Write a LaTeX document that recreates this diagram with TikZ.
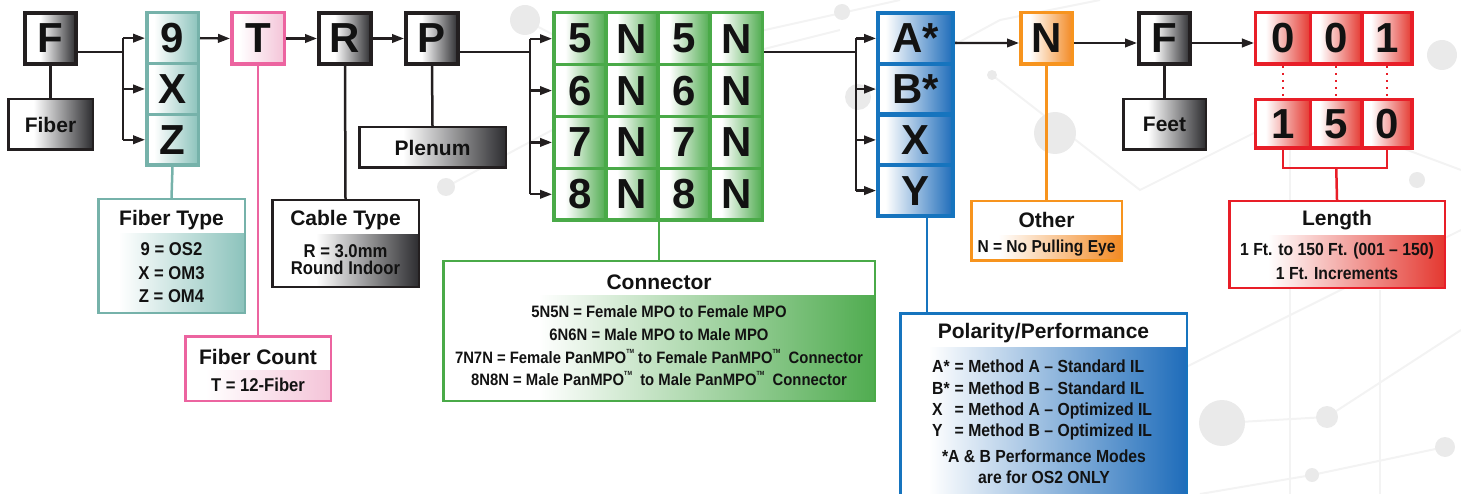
\documentclass[tikz,border=0pt]{standalone}
\usepackage{fontspec}
\setmainfont{Liberation Sans}
\newfontfamily\condf{Liberation Sans}[FakeStretch=0.9]
\usetikzlibrary{arrows.meta}

\definecolor{txt}{RGB}{18,18,18}
\definecolor{cBlk}{RGB}{35,31,32}
\definecolor{gEnd}{RGB}{45,45,48}
\definecolor{cTeal}{RGB}{118,178,170}
\definecolor{tEnd}{RGB}{140,195,188}
\definecolor{cPink}{RGB}{236,100,160}
\definecolor{pEnd}{RGB}{244,196,216}
\definecolor{cGreen}{RGB}{74,170,72}
\definecolor{grEnd}{RGB}{80,172,80}
\definecolor{cBlue}{RGB}{22,116,190}
\definecolor{bEnd}{RGB}{30,108,186}
\definecolor{cOrange}{RGB}{247,148,30}
\definecolor{oEnd}{RGB}{243,138,36}
\definecolor{cRed}{RGB}{232,30,40}
\definecolor{rEnd}{RGB}{228,56,48}
\definecolor{bgc}{RGB}{234,234,234}
\definecolor{bgl}{RGB}{243,243,243}

\pgfdeclarehorizontalshading{shGray}{100bp}{color(0bp)=(white); color(40bp)=(white); color(75bp)=(gEnd); color(100bp)=(gEnd)}
\pgfdeclarehorizontalshading{shTeal}{100bp}{color(0bp)=(white); color(32bp)=(white); color(75bp)=(tEnd); color(100bp)=(tEnd)}
\pgfdeclarehorizontalshading{shPink}{100bp}{color(0bp)=(white); color(32bp)=(white); color(75bp)=(pEnd); color(100bp)=(pEnd)}
\pgfdeclarehorizontalshading{shGreen}{100bp}{color(0bp)=(white); color(36bp)=(white); color(75bp)=(grEnd); color(100bp)=(grEnd)}
\pgfdeclarehorizontalshading{shBlue}{100bp}{color(0bp)=(white); color(30bp)=(white); color(75bp)=(bEnd); color(100bp)=(bEnd)}
\pgfdeclarehorizontalshading{shOrange}{100bp}{color(0bp)=(white); color(34bp)=(white); color(75bp)=(oEnd); color(100bp)=(oEnd)}
\pgfdeclarehorizontalshading{shRed}{100bp}{color(0bp)=(white); color(34bp)=(white); color(75bp)=(rEnd); color(100bp)=(rEnd)}

\newcommand\FBig{\fontsize{42}{42}\selectfont\bfseries}
\newcommand\FLab{\fontsize{21}{21}\selectfont\bfseries}
\newcommand\FBodyA{\condf\bfseries\fontsize{18.5}{23.5}\selectfont}
\newcommand\FBodyB{\condf\bfseries\fontsize{18.5}{16.5}\selectfont}
\newcommand\FBodyC{\condf\bfseries\fontsize{16.5}{22.7}\selectfont}
\newcommand\FBodyO{\condf\bfseries\fontsize{17.3}{20}\selectfont}
\newcommand\FBodyD{\condf\bfseries\fontsize{17.5}{21.3}\selectfont}
\newcommand\FBodyE{\condf\bfseries\fontsize{17.5}{24}\selectfont}
\newcommand\TMk{\raisebox{0.62em}{\fontsize{6}{6}\selectfont TM}}

\tikzset{
  cellbox/.style 2 args={draw=#1, shade, shading=#2, inner sep=0pt, font=\FBig, text=txt},
  descbox/.style 2 args={draw=#1, line width=2.5pt, fill=white, inner sep=0pt,
    path picture={\shade[shading=#2] ([yshift=-34pt]path picture bounding box.north west) rectangle (path picture bounding box.south east);}},
  labbox/.style={draw=cBlk, line width=2.5pt, shade, shading=shGray, inner sep=0pt, font=\FLab, text=txt},
  ttl/.style={font=\FLab, text=txt, inner sep=0pt},
  bdy/.style={text=txt, inner sep=0pt, align=center},
  ln/.style={line width=2.5pt, draw=#1},
  arr/.style={line width=2.3pt, draw=cBlk, -{Triangle[length=12pt,width=8.5pt]}},
  bgcirc/.style={fill=bgc, draw=none},
  bgline/.style={draw=bgl, line width=2pt}
}

\begin{document}
\begin{tikzpicture}[x=1pt,y=-1pt]
\useasboundingbox (0,0) rectangle (1461,494);
\clip (0,0) rectangle (1461,494);

% ---------- faint background pattern ----------
\draw[bgline] (446,187) -- (720,40) -- (900,0);
\draw[bgline] (525,20) -- (640,80) -- (840,30);
\draw[bgline] (858,97) -- (1000,20) -- (1100,0);
\draw[bgline] (992,75) -- (1140,190) -- (1300,110) -- (1461,170);
\draw[bgline] (1222,423) -- (1327,417) -- (1461,330);
\draw[bgline] (1200,494) -- (1312,475) -- (1445,447);
\draw[bgline] (1160,380) -- (1461,230);
\draw[bgline] (1290,100) -- (1290,494);
\draw[bgline] (1380,290) -- (1380,494);
\foreach \cx/\cy/\r in {525/20/15, 446/187/9, 842/12/8, 858/97/13, 1055/133/21, 992/75/5, 1442/55/15, 1417/180/8, 1222/423/23, 1327/417/11, 1445/447/10, 1312/475/7}
  \fill[bgcirc] (\cx,\cy) circle[radius=\r pt];

% ---------- F (fiber) ----------
\node[cellbox={cBlk}{shGray}, line width=4pt, minimum width=51pt, minimum height=51pt] (F1) at (50.5,38.5) {F};
\node[labbox, minimum width=84.5pt, minimum height=50.5pt] (fib) at (50.5,124.5) {Fiber};
\draw[ln=cBlk] (F1.south) -- (fib.north);

% ---------- fiber type column ----------
\foreach \n/\t/\y in {c9/9/38.15, cX/X/88.95, cZ/Z/139.75}
  \node[cellbox={cTeal}{shTeal}, line width=3.5pt, minimum width=51.5pt, minimum height=50.8pt] (\n) at (172.5,\y) {\t};
\coordinate (b1) at (123,52);
\draw[ln=cBlk] (F1.east |- b1) -- (b1);
\draw[ln=cBlk] (b1 |- c9) -- (b1 |- cZ);
\foreach \n in {c9,cX,cZ} \draw[arr] (b1 |- \n) -- (\n.west);

% ---------- T, R, P ----------
\node[cellbox={cPink}{shPink}, line width=3.5pt, minimum width=52.5pt, minimum height=51.5pt] (T) at (258,38.5) {T};
\node[cellbox={cBlk}{shGray}, line width=4pt, minimum width=52pt, minimum height=51pt] (R) at (345,38.5) {R};
\node[cellbox={cBlk}{shGray}, line width=4pt, minimum width=52pt, minimum height=51pt] (P) at (432,38.5) {P};
\draw[arr] (c9.east) -- (T.west);
\draw[arr] (T.east) -- (R.west);
\draw[arr] (R.east) -- (P.west);
\node[labbox, minimum width=146.5pt, minimum height=40.5pt] (plen) at (432.5,147.5) {Plenum};
\draw[ln=cBlk] (P.south) -- (plen.north);

% ---------- connector grid ----------
\foreach \r/\y/\a/\b in {1/38.7/5/N, 2/90.6/6/N, 3/142.4/7/N, 4/194.3/8/N}{
  \node[cellbox={cGreen}{shGreen}, line width=3.5pt, minimum width=52.1pt, minimum height=51.9pt] (g\r a) at (579.8,\y) {\a};
  \node[cellbox={cGreen}{shGreen}, line width=3.5pt, minimum width=52.1pt, minimum height=51.9pt] (g\r b) at (631.9,\y) {\b};
  \node[cellbox={cGreen}{shGreen}, line width=3.5pt, minimum width=52.1pt, minimum height=51.9pt] (g\r c) at (684.1,\y) {\a};
  \node[cellbox={cGreen}{shGreen}, line width=3.5pt, minimum width=52.1pt, minimum height=51.9pt] (g\r d) at (736.2,\y) {\b};
}
\coordinate (b2) at (530,52);
\draw[ln=cBlk] (P.east |- b2) -- (b2);
\draw[ln=cBlk] (b2 |- g1a) -- (b2 |- g4a);
\foreach \n in {g1a,g2a,g3a,g4a} \draw[arr] (b2 |- \n) -- (\n.west);

% ---------- polarity column ----------
\foreach \n/\t/\y in {pA/A*/38.4, pB/B*/89.1, pX/X/139.9, pY/Y/190.6}
  \node[cellbox={cBlue}{shBlue}, line width=4pt, minimum width=75pt, minimum height=50.75pt] (\n) at (915.5,\y) {\t};
\coordinate (b3) at (856,52);
\draw[ln=cBlk] (g1d.east |- b3) -- (b3);
\draw[ln=cBlk] (b3 |- pA) -- (b3 |- pY);
\foreach \n in {pA,pB,pX,pY} \draw[arr] (b3 |- \n) -- (\n.west);

% ---------- N, F(feet) ----------
\node[cellbox={cOrange}{shOrange}, line width=3.5pt, minimum width=51.5pt, minimum height=51.5pt] (N) at (1046.5,38.5) {N};
\node[cellbox={cBlk}{shGray}, line width=4pt, minimum width=51pt, minimum height=51pt] (F2) at (1164.5,38.5) {F};
\node[labbox, minimum width=82.5pt, minimum height=50.5pt] (feet) at (1164.5,124.5) {Feet};
\draw[ln=cBlk] (F2.south) -- (feet.north);

% ---------- length cells ----------
\node[cellbox={cRed}{shRed}, line width=3.5pt, minimum width=54.75pt, minimum height=51.5pt] (t1) at (1283.1,38.5) {0};
\node[cellbox={cRed}{shRed}, line width=3.5pt, minimum width=51.5pt, minimum height=51.5pt] (t2) at (1336.25,38.5) {0};
\node[cellbox={cRed}{shRed}, line width=3.5pt, minimum width=50.25pt, minimum height=51.5pt] (t3) at (1387.1,38.5) {1};
\node[cellbox={cRed}{shRed}, line width=3.5pt, minimum width=54.75pt, minimum height=48.5pt] (u1) at (1283.1,124) {1};
\node[cellbox={cRed}{shRed}, line width=3.5pt, minimum width=51.5pt, minimum height=48.5pt] (u2) at (1336.25,124) {5};
\node[cellbox={cRed}{shRed}, line width=3.5pt, minimum width=50.25pt, minimum height=48.5pt] (u3) at (1387.1,124) {0};
\foreach \i in {1,2,3}
  \draw[draw=cRed, line width=2pt, dash pattern=on 2pt off 5pt] (t\i.south) -- (u\i.north);

% arrows along top right
\draw[arr] ([yshift=-4.5pt]pA.east) -- ([yshift=-4.5pt]N.west);
\draw[arr] ([yshift=-4.5pt]N.east) -- ([yshift=-4.5pt]F2.west);
\draw[arr] ([yshift=-4.5pt]F2.east) -- ([yshift=-4.5pt]t1.west);

% ---------- description boxes ----------
% Fiber Type
\node[descbox={cTeal}{shTeal}, minimum width=146.5pt, minimum height=113.5pt] (dFT) at (171.5,256) {};
\node[ttl] (dFTt) at (171.5,220) {Fiber Type};
\node[bdy, font=\FBodyA] (dFTb) at (171.5,273) {9 = OS2\\X = OM3\\Z = OM4};
\draw[ln=cTeal] (cZ.south) -- (dFT.north);

% Fiber Count
\node[descbox={cPink}{shPink}, minimum width=145.5pt, minimum height=64.5pt] (dFC) at (258,368.5) {};
\node[ttl] (dFCt) at (258,357) {Fiber Count};
\node[bdy, font=\FBodyA] (dFCb) at (258,385) {T = 12-Fiber};
\draw[ln=cPink] (T.south) -- (dFC.north);

% Cable Type
\node[descbox={cBlk}{shGray}, minimum width=146.5pt, minimum height=86.5pt] (dCT) at (345.5,243.5) {};
\node[ttl] (dCTt) at (345.5,220) {Cable Type};
\node[bdy, font=\FBodyB] (dCTb) at (345.5,259.5) {R = 3.0mm\\Round Indoor};
\draw[ln=cBlk] (R.south) -- (dCT.north);

% Connector
\node[descbox={cGreen}{shGreen}, minimum width=431.5pt, minimum height=139.5pt] (dCO) at (659,331) {};
\node[ttl] (dCOt) at (659,282) {Connector};
\node[bdy, font=\FBodyC] (dCOb) at (659,346) {5N5N = Female MPO to Female MPO\\6N6N = Male MPO to Male MPO\\7N7N = Female PanMPO\TMk{} to Female PanMPO\TMk\ \ Connector\\8N8N = Male PanMPO\TMk\ \ to Male PanMPO\TMk\ \ Connector};
\draw[ln=cGreen] (g4b.south -| dCO.north) -- (dCO.north);

% Polarity / Performance
\node[descbox={cBlue}{shBlue}, minimum width=286.5pt, minimum height=205.5pt] (dPP) at (1043.5,416) {};
\node[ttl] (dPPt) at (1043.5,333) {Polarity/Performance};
\node[text=txt, inner sep=0pt, font=\FBodyD, anchor=west] (dPPb) at (932,400.5) {\renewcommand\arraystretch{1}\begin{tabular}{@{}l@{\hspace{5pt}}l@{}}A* & = Method A – Standard IL\\B* & = Method B – Standard IL\\X & = Method A – Optimized IL\\Y & = Method B – Optimized IL\end{tabular}};
\node[bdy, font=\FBodyD] (dPPf) at (1044,467) {*A \& B Performance Modes\\are for OS2 ONLY};
\draw[ln=cBlue] ([xshift=11.5pt]pY.south) -- ([xshift=11.5pt]pY.south |- dPP.north);

% Other
\node[descbox={cOrange}{shOrange}, minimum width=150.5pt, minimum height=59.5pt] (dOT) at (1046.5,231) {};
\node[ttl] (dOTt) at (1046.5,220) {Other};
\node[bdy, font=\FBodyO] (dOTb) at (1046.5,248.5) {N = No Pulling Eye};
\draw[ln=cOrange] (N.south) -- (dOT.north);

% Length
\node[descbox={cRed}{shRed}, minimum width=215.5pt, minimum height=86.5pt] (dLE) at (1337,244.5) {};
\node[ttl] (dLEt) at (1337,220) {Length};
\node[bdy, font=\FBodyE] (dLEb) at (1337,261) {1 Ft. to 150 Ft. (001 – 150)\\1 Ft. Increments};
\coordinate (brk) at (1336.25,168);
\draw[ln=cRed] (u1.south) |- (brk) -| (u3.south);
\draw[ln=cRed] (brk) -- (dLE.north);

\end{tikzpicture}
\end{document}
